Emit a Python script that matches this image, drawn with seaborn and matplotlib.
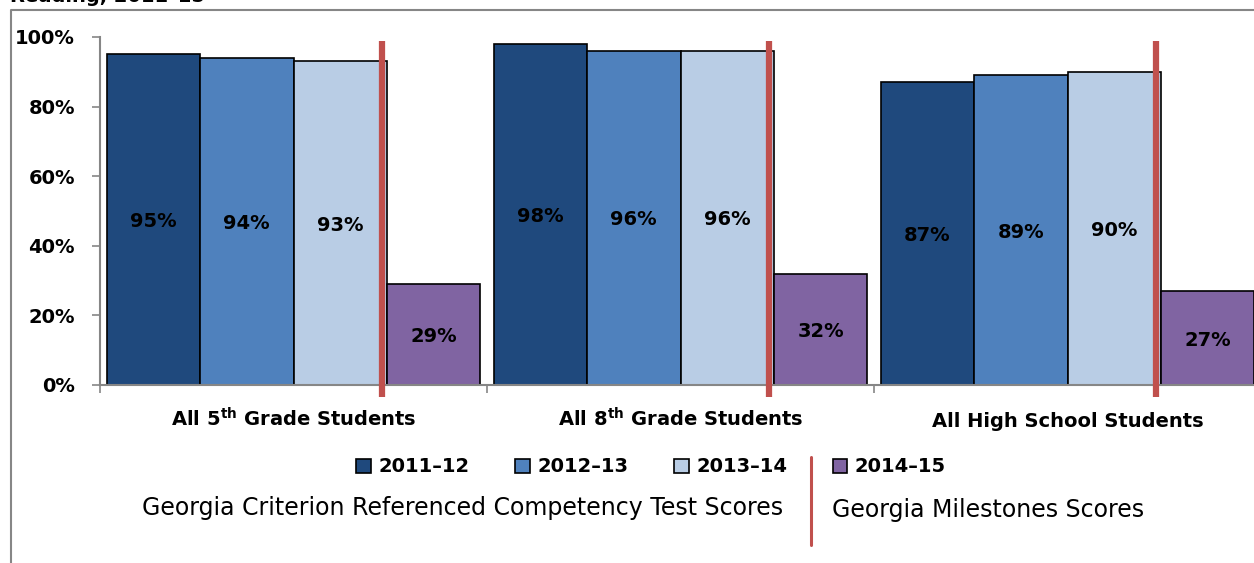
import matplotlib
matplotlib.use("Agg")
import matplotlib.pyplot as plt
from matplotlib.lines import Line2D
import pandas as pd
import seaborn as sns

groups = [r"All 5$^{\mathbf{th}}$ Grade Students",
          r"All 8$^{\mathbf{th}}$ Grade Students",
          "All High School Students"]
years = ["2011–12", "2012–13", "2013–14", "2014–15"]
scores = {
    "2011–12": [95, 98, 87],
    "2012–13": [94, 96, 89],
    "2013–14": [93, 96, 90],
    "2014–15": [29, 32, 27],
}
yticks = [0, 20, 40, 60, 80, 100]
colors = ["#1F497D", "#4F81BD", "#B9CDE5", "#8064A2"]
RED = "#C0504D"

df = pd.DataFrame([(g, y, scores[y][i]) for y in years for i, g in enumerate(groups)],
                  columns=["group", "year", "score"])

sns.set_theme(style="white")
FONT = ["DejaVu Sans"]
plt.rcParams["font.family"] = FONT
plt.rcParams["mathtext.fontset"] = "dejavusans"
plt.rcParams["text.color"] = "black"

W, H = 1254, 563
fig = plt.figure(figsize=(W / 100, H / 100), dpi=100)
ax = fig.add_axes([100 / W, 178 / H, 1161 / W, 348 / H])

width = 0.966
sns.barplot(data=df, x="group", y="score", hue="year", hue_order=years,
            palette=colors, saturation=1, width=width, gap=0, ax=ax,
            edgecolor="black", linewidth=1.2, legend=True)
handles, labels = ax.get_legend_handles_labels()
ax.get_legend().remove()

for cont in ax.containers:
    lbls = ax.bar_label(cont, labels=[f"{v:.0f}%" for v in cont.datavalues],
                        label_type="center", fontsize=14, fontweight="bold",
                        color="black")
    for t in lbls:
        t.set_va("center_baseline")

# separators between CRCT and Milestones bars
for i in range(len(groups)):
    xr = i + width / 4 - 0.012
    ax.add_line(Line2D([xr, xr], [-3.5, 98.8], color=RED, lw=4.5,
                       clip_on=False, solid_capstyle="butt", zorder=5))

ax.set_xlim(-0.5, 2.5)
ax.set_ylim(0, 100)
ax.set_yticks(yticks)
ax.set_yticklabels([f"{t}%" for t in yticks], fontsize=14, fontweight="bold")
ax.set_xticks(range(len(groups)))
ax.set_xticklabels(groups, fontsize=14, fontweight="bold")
for lbl in ax.get_xticklabels():
    lbl.set_va("baseline")
ax.set_xticks([-0.5, 0.5, 1.5, 2.5], minor=True)
ax.tick_params(axis="x", which="major", length=0, pad=30, labelcolor="black")
ax.tick_params(axis="x", which="minor", length=6, color="#868686", width=1.2,
               direction="out", bottom=True)
ax.tick_params(axis="y", length=6, color="#868686", width=1.2, direction="out",
               left=True, pad=12, labelcolor="black")
ax.set_xlabel("")
ax.set_ylabel("")
for s in ["top", "right"]:
    ax.spines[s].set_visible(False)
for s in ["left", "bottom"]:
    ax.spines[s].set_color("#868686")
    ax.spines[s].set_linewidth(1.5)

# legends
leg_kw = dict(frameon=False, handlelength=0.75, handleheight=0.75,
              handletextpad=0.4, prop={"family": FONT, "weight": "bold", "size": 14})
for h in handles:
    h.set_edgecolor("black")
fig.legend(handles[:3], labels[:3], loc="center", ncol=3, columnspacing=2.35,
           bbox_to_anchor=(572 / W, 1 - 467 / H), **leg_kw)
fig.legend(handles[3:], labels[3:], loc="center left",
           bbox_to_anchor=(815 / W, 1 - 467 / H), **leg_kw)

fig.text(463 / W, 1 - 508 / H, "Georgia Criterion Referenced Competency Test Scores",
         ha="center", va="center", fontsize=17)
fig.text(988 / W, 1 - 510 / H, "Georgia Milestones Scores",
         ha="center", va="center", fontsize=17)
fig.add_artist(Line2D([811 / W, 811 / W], [1 - 457 / H, 1 - 545 / H],
                      color=RED, lw=2.2))

# chart area frame and clipped title
fig.add_artist(Line2D([11 / W, 11 / W, 1.0], [0, 1 - 10 / H, 1 - 10 / H],
                      color="#868686", lw=1.5))
fig.text(10 / W, 1 - 1.5 / H, "Reading, 2011–15", ha="left", va="baseline",
         fontsize=14, fontweight="bold")

fig.savefig("out.png", dpi=100)
